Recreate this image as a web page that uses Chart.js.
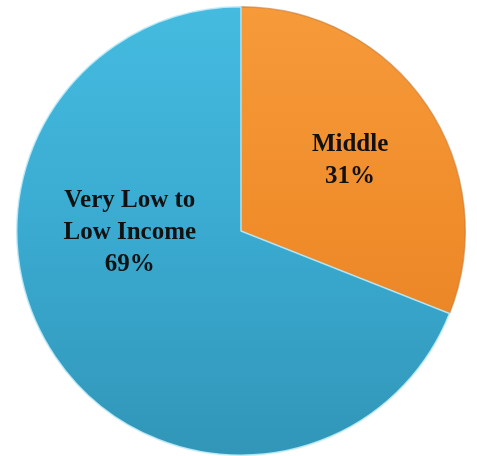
<!DOCTYPE html>
<html>
<head>
<meta charset="utf-8">
<script src="https://cdn.jsdelivr.net/npm/chart.js@4.4.0/dist/chart.umd.min.js"></script>
<style>
  html, body { margin: 0; padding: 0; background: #ffffff; }
  #wrap { position: relative; width: 477px; height: 456px; }
</style>
</head>
<body>
<div id="wrap"><canvas id="c"></canvas></div>
<script>
const categories = ["Middle", "Very Low to Low Income"];
const labelLines = [["Middle", "31%"], ["Very Low to", "Low Income", "69%"]];
const values = [31, 69];

// label placement: angle (deg clockwise from top) and fraction of radius
const labelPos = [{ angle: 57, frac: 0.58 }, { angle: 269.3, frac: 0.496 }];

function sliceFill(ctx, i) {
  const chart = ctx.chart;
  const area = chart.chartArea;
  if (!area) return i === 0 ? '#F08A28' : '#3FAFD3';
  const g = chart.ctx.createLinearGradient(0, area.top, 0, area.bottom);
  if (i === 0) {
    g.addColorStop(0, '#F69A3A');
    g.addColorStop(0.5, '#F08C2A');
    g.addColorStop(1, '#E27E20');
  } else {
    g.addColorStop(0, '#45BBE0');
    g.addColorStop(0.5, '#3AAAD0');
    g.addColorStop(1, '#3196B8');
  }
  return g;
}

const labelPlugin = {
  id: 'sliceLabels',
  afterDatasetsDraw(chart) {
    const meta = chart.getDatasetMeta(0);
    const c = chart.ctx;
    c.save();
    c.font = 'bold 25px "Liberation Serif", "DejaVu Serif", serif';
    c.fillStyle = '#111111';
    c.textAlign = 'center';
    c.textBaseline = 'middle';
    meta.data.forEach((arc, i) => {
      const p = labelPos[i];
      const a = (p.angle - 90) * Math.PI / 180;
      const r = arc.outerRadius * p.frac;
      const cx = arc.x + Math.cos(a) * r;
      const cy = arc.y + Math.sin(a) * r;
      const lines = labelLines[i];
      const lh = 32;
      const start = cy - (lines.length - 1) * lh / 2;
      lines.forEach((t, k) => c.fillText(t, cx, start + k * lh));
    });
    c.restore();
  }
};

new Chart(document.getElementById('c'), {
  type: 'pie',
  data: {
    labels: categories,
    datasets: [{
      data: values,
      backgroundColor: (ctx) => sliceFill(ctx, ctx.dataIndex),
      borderColor: ['rgba(200,120,50,0.6)', 'rgba(190,235,250,0.9)'],
      borderWidth: 1.5
    }]
  },
  options: {
    responsive: true,
    maintainAspectRatio: false,
    animation: false,
    layout: { padding: { left: 15, right: 10, top: 6, bottom: 0 } },
    plugins: {
      legend: { display: false },
      tooltip: { enabled: false }
    }
  },
  plugins: [labelPlugin]
});
</script>
</body>
</html>
